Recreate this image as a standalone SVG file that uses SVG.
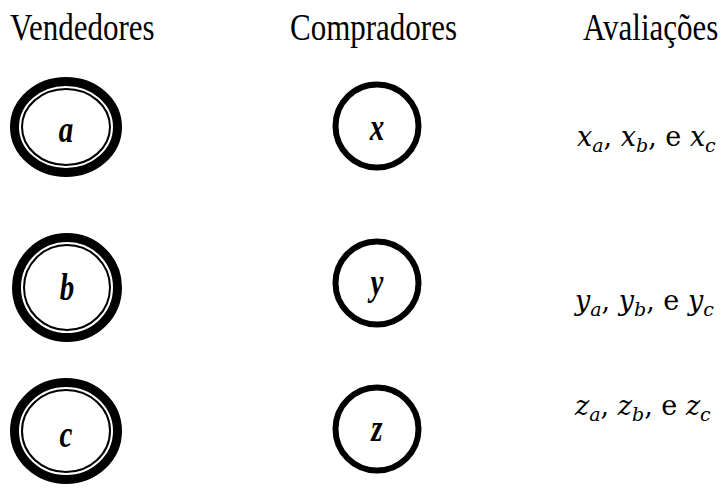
<svg xmlns="http://www.w3.org/2000/svg" width="727" height="489" viewBox="0 0 727 489">
<style>
.hdr{font-family:"Liberation Serif","Times New Roman",serif;font-size:31px;fill:#000}
.lbl{font-family:"Liberation Serif","Times New Roman",serif;font-size:29px;font-weight:bold;font-style:italic;fill:#000;text-anchor:middle}
.math{font-family:"DejaVu Serif","Liberation Serif",serif;font-size:27px;fill:#000}
.it{font-style:italic}
.sub{font-size:19px;font-style:italic}
.outer2{fill:none;stroke:#000;stroke-width:9}
.inner2{fill:none;stroke:#000;stroke-width:2}
.single{fill:none;stroke:#000;stroke-width:6}
</style>
<rect width="727" height="489" fill="#fff"/>
<g id="headers">
<text class="hdr" transform="translate(10,40) scale(1,1.2)">Vendedores</text>
<text class="hdr" transform="translate(290,40) scale(1,1.2)">Compradores</text>
<text class="hdr" transform="translate(583,40) scale(1,1.2)">Avaliações</text>
</g>
<g id="node-a">
<ellipse class="outer2" cx="66" cy="127" rx="51.5" ry="45.5"/>
<ellipse class="inner2" cx="66" cy="127" rx="44" ry="38"/>
<text class="lbl" transform="translate(66,142) scale(1,1.3)">a</text>
</g>
<g id="node-b">
<ellipse class="outer2" cx="67" cy="287.5" rx="50.5" ry="50"/>
<ellipse class="inner2" cx="67" cy="287.5" rx="43" ry="42.5"/>
<text class="lbl" transform="translate(67,300) scale(1,1.3)">b</text>
</g>
<g id="node-c">
<ellipse class="outer2" cx="66" cy="431" rx="51.5" ry="48.5"/>
<ellipse class="inner2" cx="66" cy="431" rx="44" ry="41"/>
<text class="lbl" transform="translate(66,447) scale(1,1.3)">c</text>
</g>
<g id="node-x">
<circle class="single" cx="377" cy="126" r="41.5"/>
<text class="lbl" transform="translate(377,140) scale(1,1.3)">x</text>
</g>
<g id="node-y">
<circle class="single" cx="377" cy="283" r="41.5"/>
<text class="lbl" transform="translate(377,295) scale(1,1.3)">y</text>
</g>
<g id="node-z">
<circle class="single" cx="377" cy="429" r="41.5"/>
<text class="lbl" transform="translate(377,441) scale(1,1.3)">z</text>
</g>
<g id="eval-x">
<text class="math" x="577" y="146"><tspan class="it">x</tspan><tspan class="sub" dy="6">a</tspan><tspan dy="-6">, </tspan><tspan class="it">x</tspan><tspan class="sub" dy="6">b</tspan><tspan dy="-6">, e </tspan><tspan class="it">x</tspan><tspan class="sub" dy="6">c</tspan></text>
</g>
<g id="eval-y">
<text class="math" x="575" y="310"><tspan class="it">y</tspan><tspan class="sub" dy="6">a</tspan><tspan dy="-6">, </tspan><tspan class="it">y</tspan><tspan class="sub" dy="6">b</tspan><tspan dy="-6">, e </tspan><tspan class="it">y</tspan><tspan class="sub" dy="6">c</tspan></text>
</g>
<g id="eval-z">
<text class="math" x="575" y="415"><tspan class="it">z</tspan><tspan class="sub" dy="6">a</tspan><tspan dy="-6">, </tspan><tspan class="it">z</tspan><tspan class="sub" dy="6">b</tspan><tspan dy="-6">, e </tspan><tspan class="it">z</tspan><tspan class="sub" dy="6">c</tspan></text>
</g>
<g id="connectors"></g>
</svg>
